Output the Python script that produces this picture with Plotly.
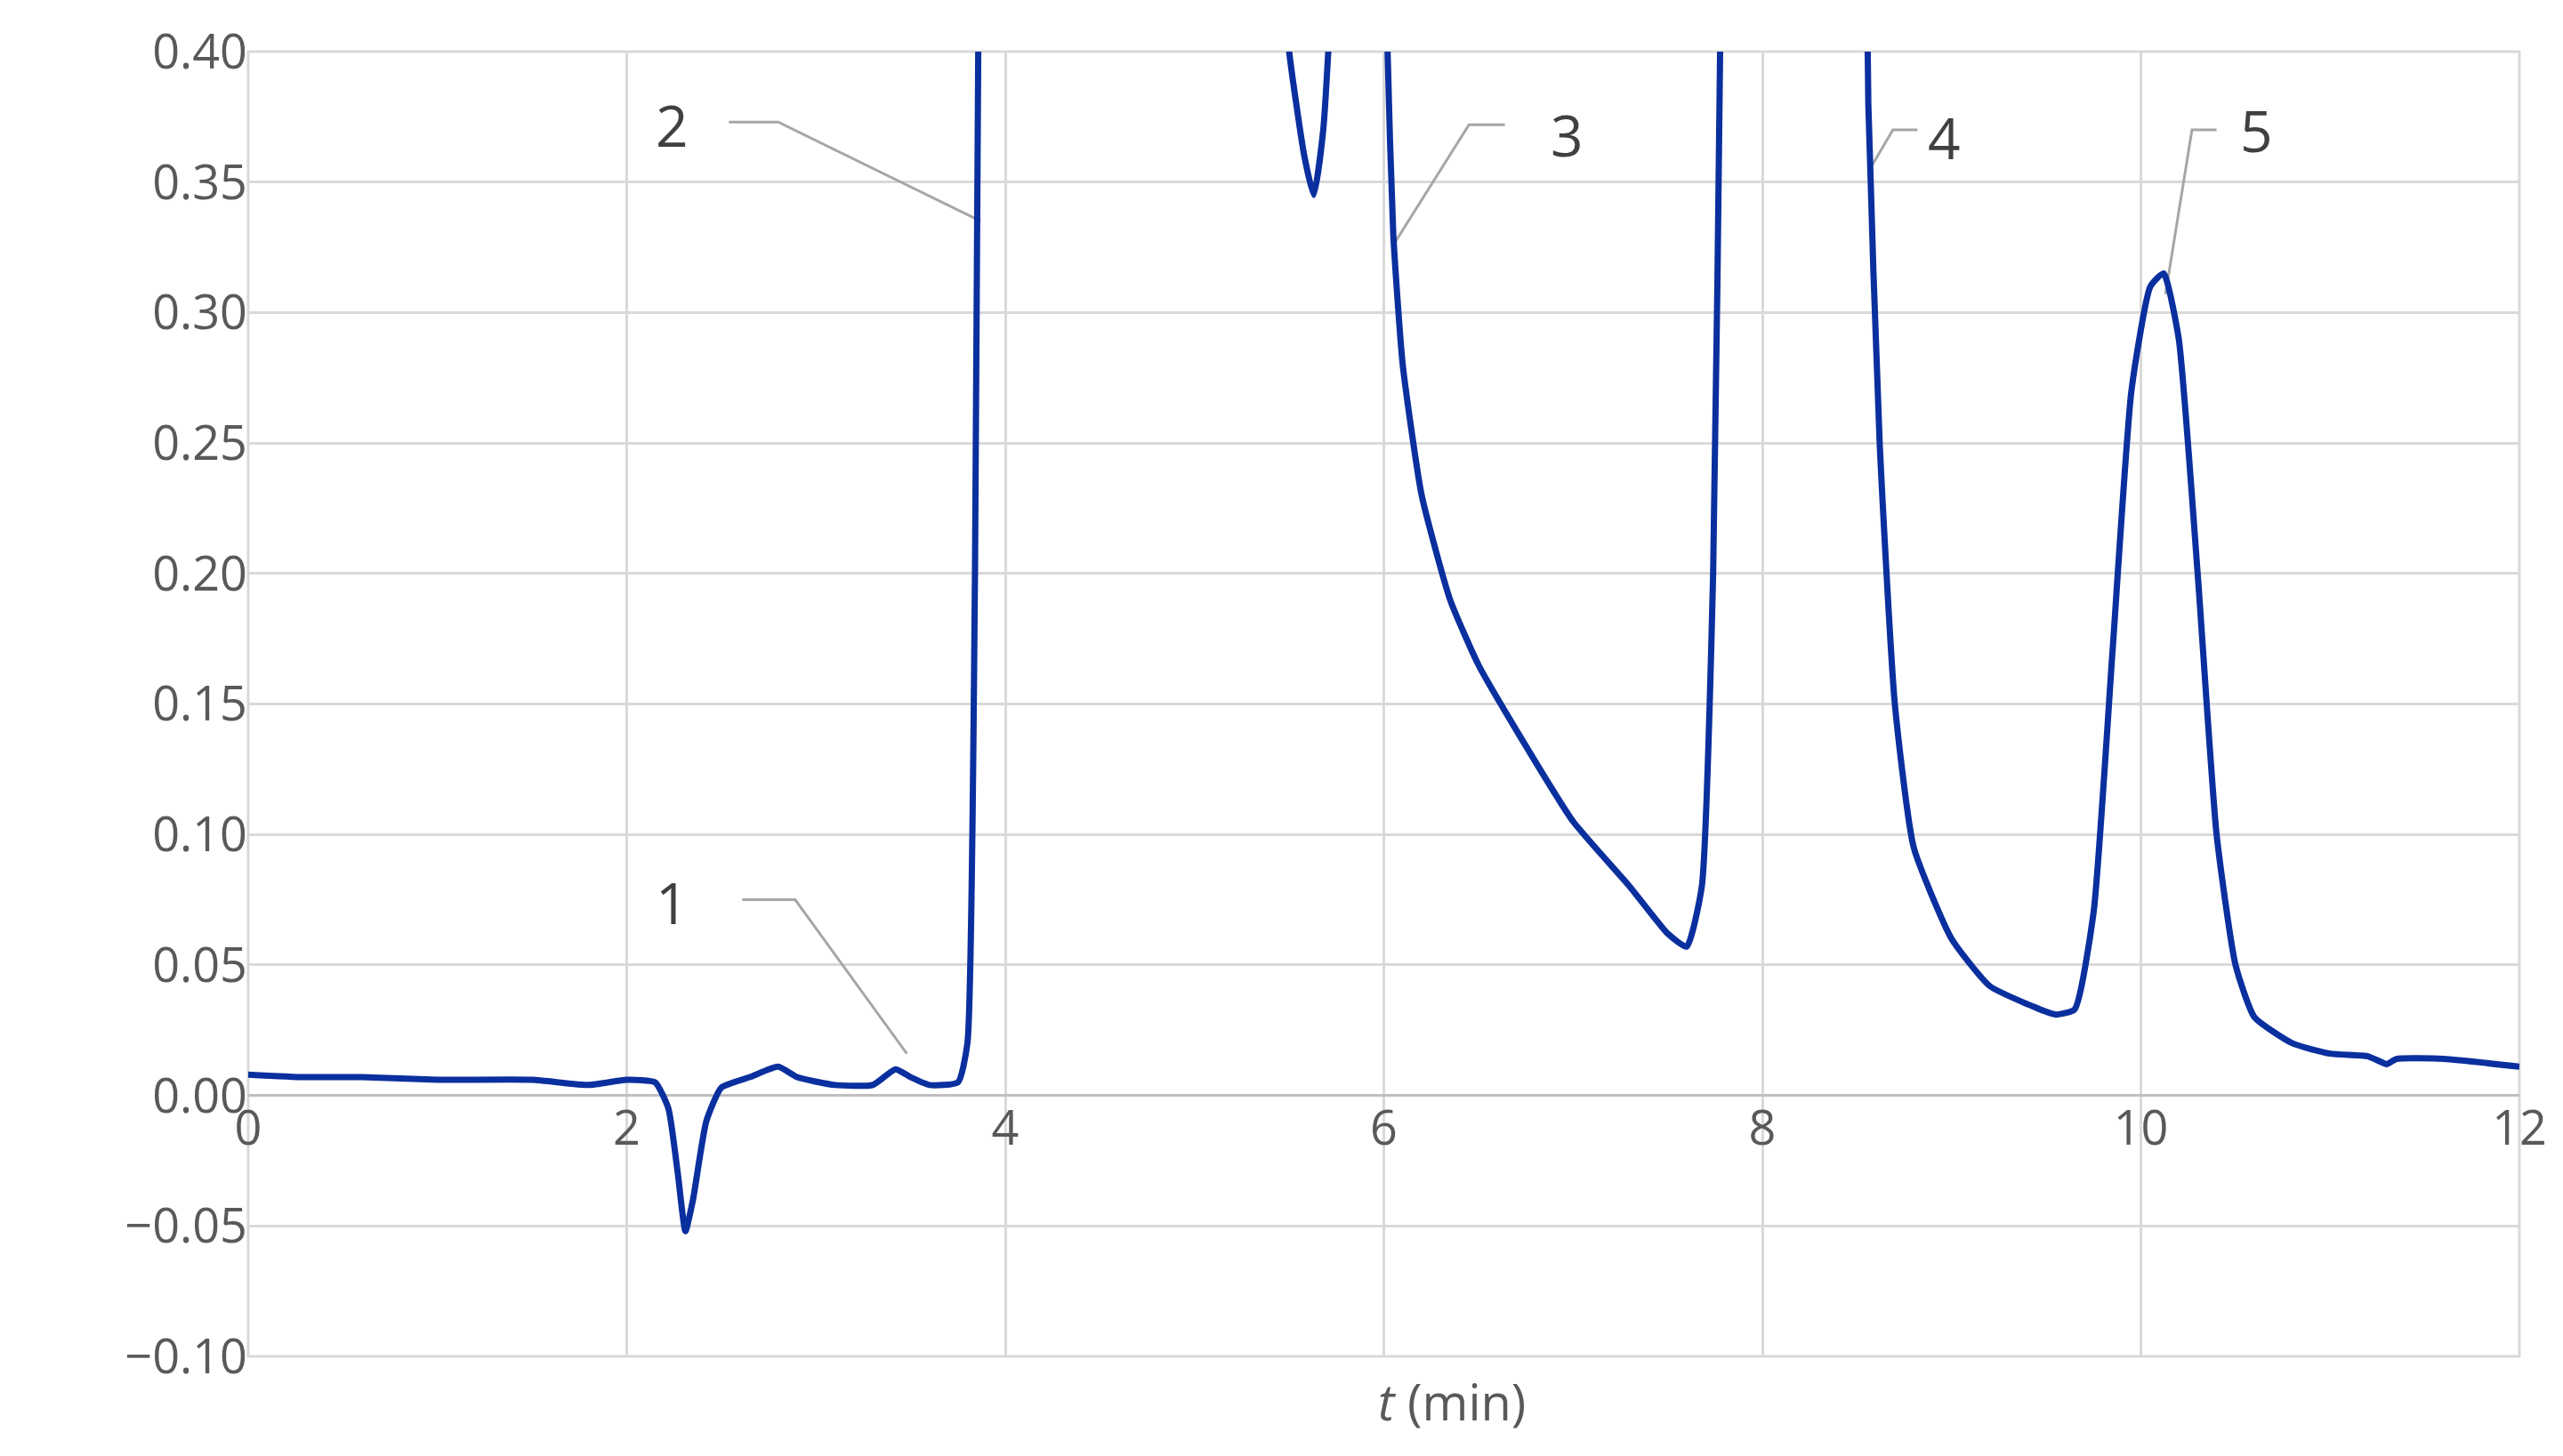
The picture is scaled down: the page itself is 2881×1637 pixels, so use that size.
import plotly.graph_objects as go

# chromatogram trace (t in min, signal); off-scale peaks kept above the axis range
t_min = [0, 0.3, 0.6, 1.0, 1.5, 1.8, 2.0, 2.15, 2.22, 2.27, 2.31, 2.35, 2.42, 2.5, 2.65, 2.8,
         2.9, 3.1, 3.3, 3.42, 3.5, 3.6, 3.75, 3.8, 3.84, 3.87, 3.9,
         5.4, 5.45, 5.5, 5.58, 5.63, 5.68, 5.72, 5.76, 5.8,
         5.96, 5.99, 6.02, 6.05, 6.1, 6.2, 6.35, 6.5, 6.7, 7.0, 7.3, 7.5, 7.6, 7.68, 7.74,
         7.78, 7.81, 7.84,
         8.5, 8.53, 8.56, 8.62, 8.7, 8.8, 9.0, 9.2, 9.4, 9.55, 9.65, 9.75, 9.85, 9.95,
         10.05, 10.12, 10.2, 10.3, 10.4, 10.5, 10.6, 10.8, 11.0, 11.2, 11.3, 11.35, 11.6, 12.0]
signal = [0.008, 0.007, 0.007, 0.006, 0.006, 0.004, 0.006, 0.005, -0.005, -0.03, -0.052, -0.04,
          -0.01, 0.003, 0.007, 0.011, 0.007, 0.004, 0.004, 0.010, 0.007, 0.004, 0.005, 0.02,
          0.2, 0.6, 2.0,
          2.0, 0.45, 0.40, 0.36, 0.345, 0.37, 0.42, 0.6, 2.0,
          2.0, 0.6, 0.40, 0.33, 0.28, 0.23, 0.19, 0.165, 0.14, 0.105, 0.08, 0.062, 0.057,
          0.08, 0.2, 0.42, 0.7, 2.0,
          2.0, 0.6, 0.38, 0.25, 0.15, 0.095, 0.06, 0.042, 0.035, 0.031, 0.033, 0.07, 0.17,
          0.27, 0.31, 0.315, 0.29, 0.2, 0.1, 0.05, 0.03, 0.02, 0.016, 0.015, 0.012, 0.014,
          0.014, 0.011]

# peak labels and leader lines: label pos, elbow, target
peak_labels = ["1", "2", "3", "4", "5"]
label_t = [2.24, 2.24, 6.97, 8.96, 10.61]
label_y = [0.074, 0.372, 0.368, 0.367, 0.37]
leader_t = [[2.61, 2.89, 3.48], [2.54, 2.80, 3.87], [6.64, 6.45, 6.06],
            [8.82, 8.69, 8.56], [10.40, 10.27, 10.13]]
leader_y = [[0.075, 0.075, 0.016], [0.373, 0.373, 0.335], [0.372, 0.372, 0.327],
            [0.37, 0.37, 0.354], [0.37, 0.37, 0.307]]

fig = go.Figure()
for lt, ly in zip(leader_t, leader_y):
    fig.add_trace(go.Scatter(x=lt, y=ly, mode="lines", line=dict(color="#a6a6a6", width=3),
                             hoverinfo="skip", showlegend=False))
fig.add_trace(go.Scatter(x=t_min, y=signal, mode="lines",
                         line=dict(color="#0a2f9e", width=7, shape="spline", smoothing=0.5),
                         showlegend=False))
for lab, x, y in zip(peak_labels, label_t, label_y):
    fig.add_annotation(x=x, y=y, text=lab, showarrow=False,
                       font=dict(size=64, color="#404040"))

fig.add_annotation(x=0.53, y=0.0, xref="paper", yref="paper", yanchor="top",
                   text="<i>t</i> (min)", showarrow=False, yshift=-10,
                   font=dict(size=56, color="#595959"))

# plot-area border like the reference frame
fig.add_shape(type="rect", xref="x domain", yref="y domain", x0=0, x1=1, y0=0, y1=1,
              line=dict(color="#d9d9d9", width=3), layer="below")

fig.update_layout(
    width=2881, height=1637,
    paper_bgcolor="white", plot_bgcolor="white",
    font=dict(family="Open Sans, Liberation Sans, sans-serif", color="#595959", size=54),
    margin=dict(l=271, r=57, t=50, b=120),
    xaxis=dict(range=[0, 12], dtick=2, tick0=0, showgrid=True, gridcolor="#d9d9d9", gridwidth=3,
               zeroline=False, showline=False, anchor="free", position=0.2,
               ticks="", ticklabelstandoff=0, tickfont=dict(size=54, color="#595959")),
    yaxis=dict(range=[-0.1, 0.4], dtick=0.05, tickformat=".2f", showgrid=True,
               gridcolor="#d9d9d9", gridwidth=3, zeroline=True, zerolinecolor="#bfbfbf",
               zerolinewidth=3, ticks="", tickfont=dict(size=54, color="#595959")),
)
fig.write_html("out.html")
